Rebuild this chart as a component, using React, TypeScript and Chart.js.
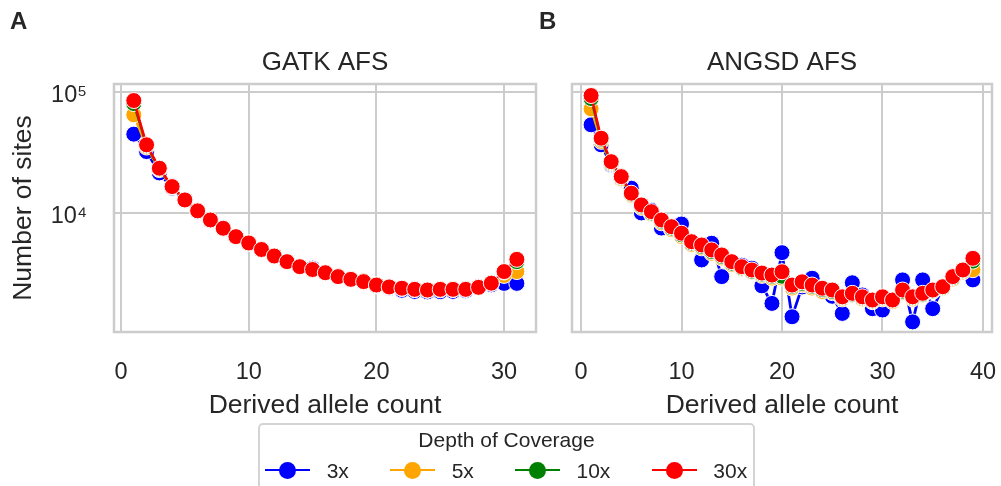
import React, { useEffect, useRef } from "react";
import { Chart, registerables } from "chart.js";

Chart.register(...registerables);

// ---------- data ----------
const gatkCounts = [1, 2, 3, 4, 5, 6, 7, 8, 9, 10, 11, 12, 13, 14, 15, 16, 17, 18, 19, 20, 21, 22, 23, 24, 25, 26, 27, 28, 29, 30, 31];
const angsdCounts = [1, 2, 3, 4, 5, 6, 7, 8, 9, 10, 11, 12, 13, 14, 15, 16, 17, 18, 19, 20, 21, 22, 23, 24, 25, 26, 27, 28, 29, 30, 31, 32, 33, 34, 35, 36, 37, 38, 39];

const gatk3x = [44700, 32100, 21400, 16000, 12600, 10300, 8650, 7400, 6300, 5600, 4950, 4400, 3950, 3600, 3500, 3200, 2970, 2800, 2680, 2500, 2400, 2300, 2250, 2230, 2240, 2250, 2280, 2450, 2550, 2620, 2620];
const gatk5x = [64600, 35000, 22800, 16300, 12700, 10350, 8700, 7450, 6350, 5620, 4970, 4400, 3950, 3600, 3400, 3200, 2980, 2830, 2700, 2530, 2440, 2380, 2330, 2300, 2320, 2330, 2340, 2420, 2620, 3050, 3280];
const gatk10x = [80000, 36000, 23200, 16500, 12800, 10400, 8750, 7470, 6370, 5650, 4990, 4410, 3980, 3600, 3410, 3210, 2980, 2830, 2710, 2540, 2450, 2390, 2340, 2310, 2330, 2340, 2350, 2440, 2650, 3250, 3960];
const gatk30x = [84700, 36500, 23400, 16500, 12800, 10400, 8750, 7470, 6370, 5650, 4990, 4410, 3960, 3600, 3410, 3210, 2980, 2830, 2710, 2540, 2450, 2390, 2340, 2310, 2340, 2340, 2340, 2430, 2630, 3280, 4140];

const angsd3x = [53400, 36500, 25000, 19000, 16000, 10000, 10500, 7500, 7600, 8100, 5800, 4090, 5620, 2980, 3900, 3700, 3500, 2500, 1790, 4700, 1390, 2450, 2890, 2250, 2050, 1480, 2650, 2100, 1620, 1580, 1900, 2800, 1260, 2800, 1620, 2400, 2900, 3300, 2800];
const angsd5x = [72300, 39000, 25500, 19200, 14000, 11100, 9800, 8300, 7300, 6400, 5500, 5150, 4650, 4250, 3750, 3450, 3250, 3050, 2900, 2900, 2400, 2550, 2400, 2250, 2200, 1950, 2100, 1950, 1850, 1950, 1850, 2200, 1950, 2100, 2250, 2400, 2850, 3250, 3400];
const angsd10x = [88000, 40500, 26000, 19700, 14300, 11400, 10000, 8550, 7500, 6600, 5650, 5300, 4800, 4380, 3850, 3520, 3300, 3120, 3000, 3000, 2480, 2620, 2480, 2330, 2250, 2000, 2130, 2000, 1880, 2000, 1900, 2250, 2000, 2130, 2270, 2420, 2920, 3330, 4000];
const angsd30x = [93200, 41400, 26500, 19950, 14550, 11640, 10250, 8750, 7700, 6800, 5790, 5440, 4950, 4500, 3960, 3600, 3380, 3190, 3070, 3270, 2540, 2700, 2540, 2390, 2310, 2030, 2170, 2030, 1910, 2030, 1910, 2310, 2030, 2170, 2310, 2460, 2980, 3380, 4220];

const depthLabels = ["3x", "5x", "10x", "30x"];
const depthColors = ["#0000ff", "#ffa500", "#008000", "#ff0000"];

const yTickValues = [10000, 100000];
const yTickLabels = ["10\u2074", "10\u2075"];
const xTickValuesA = [0, 10, 20, 30];
const xTickValuesB = [0, 10, 20, 30, 40];

const FONT = "'Liberation Sans', Arial, sans-serif";
const TEXT = "#262626";
const GRID = "#cccccc";

const spinePlugin = {
  id: "spines",
  beforeDatasetsDraw(chart: any) {
    const { ctx, chartArea } = chart;
    const { left, top, right, bottom } = chartArea;
    ctx.save();
    ctx.strokeStyle = GRID;
    ctx.lineWidth = 2.5;
    ctx.strokeRect(left, top, right - left, bottom - top);
    ctx.restore();
  },
};

function makeConfig(p: {
  counts: number[];
  series: number[][];
  title: string;
  xMin: number;
  xMax: number;
  xTicks: number[];
  showY: boolean;
  yAxisWidth: number;
  padRight: number;
}): any {
  return {
    type: "line",
    data: {
      datasets: p.series.map((s, i) => ({
        label: depthLabels[i],
        data: p.counts.map((c, j) => ({ x: c, y: s[j] })),
        borderColor: depthColors[i],
        backgroundColor: depthColors[i],
        pointBackgroundColor: depthColors[i],
        pointBorderColor: "#ffffff",
        pointBorderWidth: 1,
        pointRadius: 8,
        borderWidth: i === 0 ? 2.8 : 2.5,
        tension: 0,
        order: 4 - i,
        clip: false,
      })),
    },
    options: {
      responsive: false,
      animation: false,
      events: [],
      layout: { padding: { left: 0, right: p.padRight, top: 0, bottom: 0 } },
      plugins: {
        legend: { display: false },
        tooltip: { enabled: false },
        title: {
          display: true,
          fullSize: false,
          text: p.title,
          color: TEXT,
          font: { family: FONT, size: 26, weight: "normal" },
          padding: { top: 47.5, bottom: 5.3 },
        },
      },
      scales: {
        x: {
          type: "linear",
          min: p.xMin,
          max: p.xMax,
          bounds: "data",
          afterBuildTicks: (s: any) => {
            s.ticks = p.xTicks.map((v) => ({ value: v }));
          },
          afterFit: (s: any) => {
            s.height = 98;
            s.paddingLeft = 0;
            s.paddingRight = 0;
          },
          grid: { color: GRID, lineWidth: 2, drawTicks: false },
          border: { display: false },
          ticks: {
            padding: 26,
            color: TEXT,
            font: { family: FONT, size: 23.5 },
            maxRotation: 0,
            autoSkip: false,
            callback: (v: any) => String(v),
          },
          title: {
            display: true,
            text: "Derived allele count",
            color: TEXT,
            font: { family: FONT, size: 26.5 },
            padding: { top: 0, bottom: 8 },
          },
        },
        y: {
          type: "logarithmic",
          min: 1040,
          max: 116000,
          bounds: "data",
          afterBuildTicks: (s: any) => {
            s.ticks = yTickValues.map((v) => ({ value: v }));
          },
          afterFit: (s: any) => {
            s.width = p.yAxisWidth;
            s.paddingTop = 0;
            s.paddingBottom = 0;
          },
          grid: { color: GRID, lineWidth: 2, drawTicks: false },
          border: { display: false },
          ticks: {
            display: p.showY,
            padding: 27,
            labelOffset: 4,
            color: TEXT,
            font: { family: FONT, size: 23.5 },
            callback: (_v: any, i: number) => yTickLabels[i],
          },
          title: {
            display: p.showY,
            text: "Number of sites",
            color: TEXT,
            font: { family: FONT, size: 26.5 },
            padding: { top: 8, bottom: 0 },
          },
        },
      },
    },
    plugins: [spinePlugin],
  };
}

const legendItems = [
  { line: 265, marker: 287.5, label: 326.7 },
  { line: 390, marker: 412.5, label: 451.7 },
  { line: 515, marker: 537.5, label: 576.5 },
  { line: 651.7, marker: 674.2, label: 713.3 },
];

export default function App() {
  const refA = useRef<HTMLCanvasElement>(null);
  const refB = useRef<HTMLCanvasElement>(null);

  useEffect(() => {
    const a = new Chart(
      refA.current as HTMLCanvasElement,
      makeConfig({
        counts: gatkCounts,
        series: [gatk3x, gatk5x, gatk10x, gatk30x],
        title: "GATK AFS",
        xMin: -0.55,
        xMax: 32.5,
        xTicks: xTickValuesA,
        showY: true,
        yAxisWidth: 114,
        padRight: 7,
      })
    );
    const b = new Chart(
      refB.current as HTMLCanvasElement,
      makeConfig({
        counts: angsdCounts,
        series: [angsd3x, angsd5x, angsd10x, angsd30x],
        title: "ANGSD AFS",
        xMin: -0.9,
        xMax: 40.9,
        xTicks: xTickValuesB,
        showY: false,
        yAxisWidth: 27,
        padRight: 6,
      })
    );
    return () => {
      a.destroy();
      b.destroy();
    };
  }, []);

  const abs = (s: any) => ({ position: "absolute" as const, ...s });

  return (
    <div style={abs({ left: 0, top: 0, width: 1001, height: 486, overflow: "hidden", background: "#fff", fontFamily: FONT, color: TEXT })}>
      <canvas ref={refA} width={545} height={430} style={abs({ left: 0, top: 0, width: 545, height: 430 })} />
      <canvas ref={refB} width={456} height={430} style={abs({ left: 545, top: 0, width: 456, height: 430 })} />
      <div style={abs({ left: 10, top: 6.7, fontSize: 24, lineHeight: "28px", fontWeight: "bold" })}>A</div>
      <div style={abs({ left: 539, top: 6.7, fontSize: 24, lineHeight: "28px", fontWeight: "bold" })}>B</div>
      <div style={abs({ left: 258, top: 423, width: 497, height: 80, border: "2px solid #d4d4d4", borderRadius: 5, boxSizing: "border-box", background: "#fff" })} />
      <div style={abs({ left: 258, top: 427.7, width: 497, textAlign: "center", fontSize: 21, lineHeight: "24px" })}>Depth of Coverage</div>
      {legendItems.map((it, i) => (
        <React.Fragment key={depthLabels[i]}>
          <div style={abs({ left: it.line, top: 469, width: 45, height: 2, background: depthColors[i] })} />
          <div style={abs({ left: it.marker - 8.5, top: 461.5, width: 17, height: 17, borderRadius: "50%", background: depthColors[i] })} />
          <div style={abs({ left: it.label, top: 458.7, fontSize: 21, lineHeight: "24px" })}>{depthLabels[i]}</div>
        </React.Fragment>
      ))}
    </div>
  );
}
